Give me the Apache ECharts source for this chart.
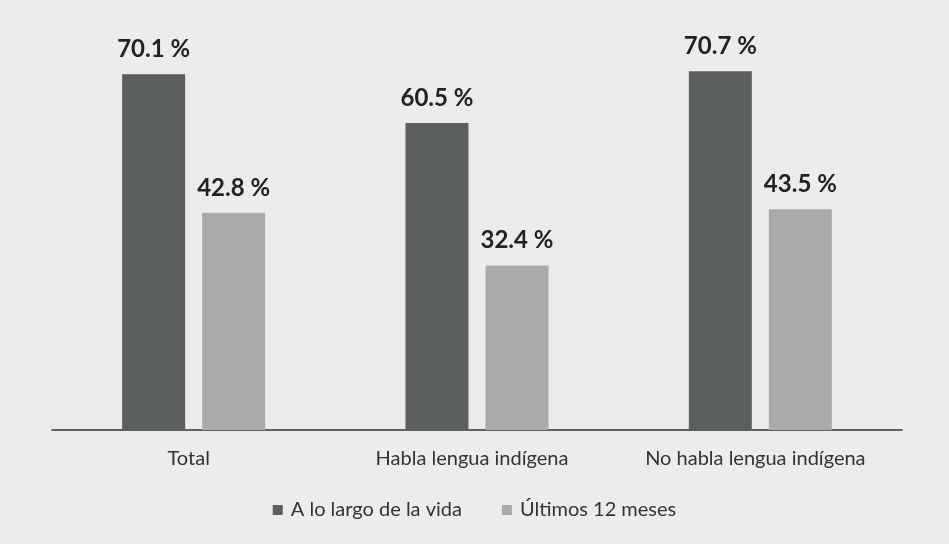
<!DOCTYPE html>
<html>
<head>
<meta charset="utf-8">
<script src="https://cdn.jsdelivr.net/npm/echarts@6/dist/echarts.min.js"></script>
<style>
  html, body { margin: 0; padding: 0; background: #ececec; }
  #chart { width: 949px; height: 544px; }
</style>
</head>
<body>
<div id="chart"></div>
<script>
// Groups shown along the horizontal axis
const categories = ['Total', 'Habla lengua indígena', 'No habla lengua indígena'];
// Series names
const seriesNames = ['A lo largo de la vida', 'Últimos 12 meses'];
// Percentages per group
const lifetimeValues = [70.1, 60.5, 70.7];
const last12Values = [42.8, 32.4, 43.5];

const FONT = 'Lato, "Open Sans", sans-serif';

const chart = echarts.init(document.getElementById('chart'), null, { renderer: 'canvas' });

const valueLabel = {
  show: true,
  position: 'top',
  distance: 13,
  fontFamily: FONT,
  fontWeight: 'bold',
  fontSize: 24,
  color: '#222222',
  formatter: p => p.value.toFixed(1) + ' %'
};

chart.setOption({
  backgroundColor: '#ececec',
  animation: false,
  grid: { left: 52, right: 47, top: 24, bottom: 114 },
  legend: {
    data: seriesNames,
    bottom: 19,
    left: 'center',
    itemWidth: 10,
    itemHeight: 10,
    itemGap: 40,
    icon: 'rect',
    textStyle: { fontFamily: FONT, fontSize: 20, color: '#333333', padding: [0, 0, 0, 3] }
  },
  xAxis: {
    type: 'category',
    data: categories,
    axisLine: { show: true, lineStyle: { color: '#333333', width: 1.5 } },
    axisTick: { show: false },
    axisLabel: {
      interval: 0,
      hideOverlap: false,
      fontFamily: FONT,
      fontSize: 20,
      color: '#333333',
      margin: 19,
      padding: [0, 10, 0, 0]
    }
  },
  yAxis: {
    type: 'value',
    min: 0,
    max: 80,
    show: false,
    splitLine: { show: false }
  },
  series: [
    {
      name: seriesNames[0],
      type: 'bar',
      data: lifetimeValues,
      barWidth: 63,
      barGap: '27%',
      itemStyle: { color: '#5b605d' },
      label: valueLabel
    },
    {
      name: seriesNames[1],
      type: 'bar',
      data: last12Values,
      barWidth: 63,
      itemStyle: { color: '#a9aaa9' },
      label: valueLabel
    }
  ]
});
</script>
</body>
</html>
